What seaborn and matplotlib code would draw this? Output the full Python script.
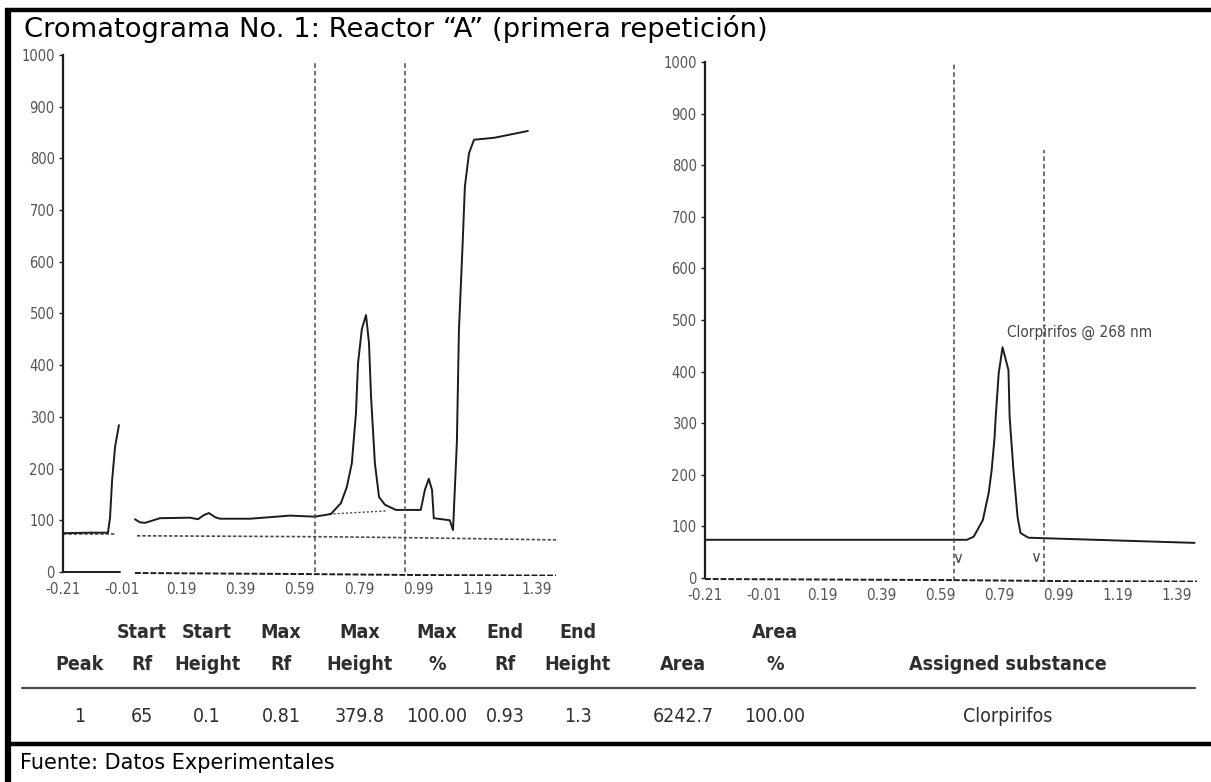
import matplotlib
matplotlib.use("Agg")
import matplotlib.pyplot as plt
from matplotlib import font_manager as fm
from matplotlib.lines import Line2D
import seaborn as sns

# ---------------- data ----------------
title = "Cromatograma No. 1: Reactor \u201cA\u201d (primera repetición)"
source = "Fuente: Datos Experimentales"

y_ticks = [0, 100, 200, 300, 400, 500, 600, 700, 800, 900, 1000]
y_tick_labels = ["0", "100", "200", "300", "400", "500", "600", "700", "800", "900", "1000"]
x_ticks = [-0.21, -0.01, 0.19, 0.39, 0.59, 0.79, 0.99, 1.19, 1.39]
x_tick_labels = ["-0.21", "-0.01", "0.19", "0.39", "0.59", "0.79", "0.99", "1.19", "1.39"]

# Panel A: full lane scan (Rf, signal)
a_scan1_rf = [-0.21, -0.119, -0.058, -0.051, -0.044, -0.034, -0.021]
a_scan1_val = [75, 76, 76, 106, 178, 242, 284]
a_scan2_rf = [0.033, 0.050, 0.067, 0.118, 0.219, 0.246, 0.266, 0.283, 0.304, 0.320,
              0.422, 0.557, 0.641, 0.695, 0.729, 0.749, 0.766, 0.780, 0.787, 0.800,
              0.814, 0.824, 0.831, 0.844, 0.858, 0.878, 0.915, 0.999, 1.013, 1.026,
              1.037, 1.043, 1.097, 1.108, 1.121, 1.128, 1.141, 1.148, 1.162, 1.179,
              1.249, 1.361]
a_scan2_val = [102, 96, 95, 104, 105, 102, 110, 114, 106, 103,
               103, 109, 107, 112, 133, 164, 210, 307, 404, 470,
               497, 443, 339, 210, 145, 130, 120, 120, 159, 180,
               159, 104, 100, 81, 250, 468, 642, 745, 810, 836,
               840, 853]
a_zero1_rf = [-0.21, -0.017]
a_zero1_val = [0, 0]
a_zero2_rf = [0.033, 0.6, 1.0, 1.456]
a_zero2_val = [-2, -4, -6, -7]
a_base1_rf = [-0.21, -0.03]
a_base1_val = [73, 73]
a_base2_rf = [0.04, 0.7, 1.0, 1.456]
a_base2_val = [70, 68, 66, 62]
a_peak_base_rf = [0.69, 0.88]
a_peak_base_val = [112, 118]
a_marks_rf = [0.641, 0.945]
a_marks_top = [985, 990]

# Panel B: assigned peak (Rf, signal)
b_scan_rf = [-0.21, 0.679, 0.702, 0.733, 0.753, 0.763, 0.773, 0.776, 0.787, 0.800,
             0.820, 0.824, 0.837, 0.851, 0.861, 0.888, 1.452]
b_scan_val = [74, 74, 80, 112, 165, 209, 273, 306, 397, 447,
              403, 312, 209, 118, 87, 78, 68]
b_zero_rf = [-0.21, 0.6, 1.0, 1.46]
b_zero_val = [-2, -4, -6, -7]
b_marks_rf = [0.635, 0.939]
b_marks_top = [998, 829]
b_ends_rf = [0.65, 0.915]
b_ends_val = [38, 40]
peak_label = "Clorpirifos @ 268 nm"
peak_label_rf = 0.814
peak_label_val = 475

# Peak table
head1 = ["", "Start", "Start", "Max", "Max", "Max", "End", "End", "", "Area", ""]
head2 = ["Peak", "Rf", "Height", "Rf", "Height", "%", "Rf", "Height", "Area", "%",
         "Assigned substance"]
row1 = ["1", "65", "0.1", "0.81", "379.8", "100.00", "0.93", "1.3", "6242.7", "100.00",
        "Clorpirifos"]

# ---------------- style ----------------
sns.set_theme(style="white")
names = {f.name for f in fm.fontManager.ttflist}
NARROW = "Liberation Sans Narrow" if "Liberation Sans Narrow" in names else "DejaVu Sans"
STRETCH = "normal" if NARROW == "Liberation Sans Narrow" else "condensed"
plt.rcParams["font.family"] = ["DejaVu Sans"]

INK = "#1c1c1c"
GREY = "#4a4a4a"
TXT = "#2e2e2e"

W, H = 1211, 782
fig = plt.figure(figsize=(W / 100, H / 100), dpi=100)
fig.patch.set_facecolor("white")


def fx(px):
    return px / W


def fy(py):
    return 1 - py / H


def draw_panel(ax, xlim):
    ax.set_xlim(*xlim)
    ax.set_ylim(-8, 1010)
    ax.set_facecolor("none")
    for s in ["top", "right", "bottom"]:
        ax.spines[s].set_visible(False)
    ax.spines["left"].set_color(INK)
    ax.spines["left"].set_linewidth(1.6)
    ax.spines["left"].set_bounds(0, 1000)
    ax.set_yticks(y_ticks)
    ax.set_yticklabels(y_tick_labels)
    ax.set_xticks(x_ticks)
    ax.set_xticklabels(x_tick_labels)
    ax.tick_params(axis="y", length=3, width=1, color=INK, pad=3, labelsize=10.5,
                   labelcolor="#555555", left=True)
    ax.tick_params(axis="x", length=0, pad=4, labelsize=11, labelcolor="#555555")
    for lab in ax.get_xticklabels() + ax.get_yticklabels():
        lab.set_fontfamily(NARROW)
        lab.set_fontstretch(STRETCH)
    ax.set_xlabel("")
    ax.set_ylabel("")
    ax.grid(False)


def line(ax, xs, ys, color=INK, lw=1.3, ls="-"):
    sns.lineplot(x=xs, y=ys, ax=ax, color=color, lw=lw, linestyle=ls,
                 sort=False, estimator=None, legend=False)


# ---- panel A ----
axA = fig.add_axes([fx(63), fy(576.1), fx(556 - 63), (576.1 - 49.8) / H])
line(axA, a_zero1_rf, a_zero1_val, lw=1.4)
line(axA, a_zero2_rf, a_zero2_val, lw=1.4, ls=(0, (3, 1)))
line(axA, a_base1_rf, a_base1_val, color=GREY, lw=1.2, ls=(0, (2, 1.2)))
line(axA, a_base2_rf, a_base2_val, color=GREY, lw=1.2, ls=(0, (2, 1.2)))
line(axA, a_peak_base_rf, a_peak_base_val, color=GREY, lw=1.0, ls=(0, (1.5, 1.5)))
line(axA, a_scan1_rf, a_scan1_val, lw=1.4)
line(axA, a_scan2_rf, a_scan2_val, lw=1.4)
for rf, top in zip(a_marks_rf, a_marks_top):
    axA.vlines(rf, 0, top, color=GREY, lw=1.1, linestyles=(0, (3, 2)))
draw_panel(axA, (-0.21, 1.456))

# ---- panel B ----
axB = fig.add_axes([fx(705), fy(582.1), fx(1197 - 705), (582.1 - 56.8) / H])
line(axB, b_zero_rf, b_zero_val, lw=1.4, ls=(0, (3, 1)))
line(axB, b_scan_rf, b_scan_val, lw=1.4)
for rf, top in zip(b_marks_rf, b_marks_top):
    axB.vlines(rf, -6, top, color=GREY, lw=1.1, linestyles=(0, (3, 2)))
sns.scatterplot(x=b_ends_rf, y=b_ends_val, ax=axB, marker="$\\vee$", s=40,
                color=GREY, linewidth=0, legend=False)
axB.text(peak_label_rf, peak_label_val, peak_label, fontsize=11, color="#444444",
         family=NARROW, fontstretch=STRETCH, ha="left", va="center")
draw_panel(axB, (-0.21, 1.46))

# ---- frame ----
frame = dict(color="black", solid_capstyle="butt")
fig.add_artist(Line2D([fx(5), fx(W)], [fy(10), fy(10)], lw=3.2, **frame))
fig.add_artist(Line2D([fx(8), fx(8)], [fy(8), fy(H)], lw=4.5, **frame))
fig.add_artist(Line2D([fx(5), fx(W)], [fy(744), fy(744)], lw=3.2, **frame))

fig.text(fx(24), fy(29), title, fontsize=19.7, color="black", ha="left", va="center")
fig.text(fx(20), fy(763), source, fontsize=15, color="black", ha="left", va="center")

# ---- peak table ----
col_x = [80, 142, 207, 281, 360, 437, 505, 578, 683, 775, 1008]
for cx, h1, h2, v in zip(col_x, head1, head2, row1):
    kw = dict(fontsize=14, color=TXT, family=NARROW, fontstretch=STRETCH, ha="center",
              va="center", fontweight="bold")
    if h1:
        fig.text(fx(cx), fy(633), h1, **kw)
    fig.text(fx(cx), fy(665), h2, **kw)
    fig.text(fx(cx), fy(716), v, **dict(kw, fontweight="normal"))
fig.add_artist(Line2D([fx(22), fx(1195)], [fy(688), fy(688)], lw=1.6, color=GREY))

fig.savefig("out.png", dpi=100, facecolor="white")
